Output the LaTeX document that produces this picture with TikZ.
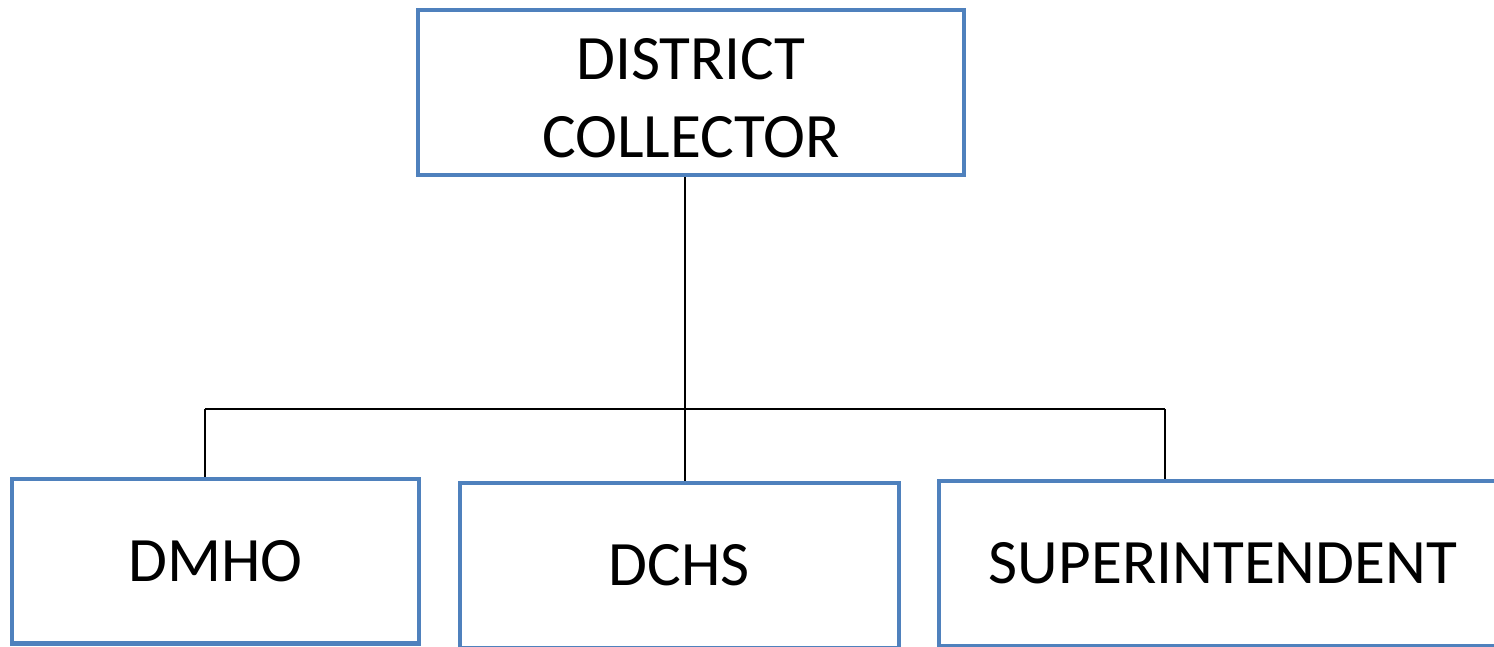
\documentclass[tikz,border=0pt]{standalone}
\usepackage{fontspec}
\setmainfont{Carlito}
\usepackage{tikz}
\definecolor{officeblue}{RGB}{79,129,189}

\begin{document}
\begin{tikzpicture}[
  x=0.02cm, y=-0.02cm,
  orgbox/.style={draw=officeblue, line width=2.3pt, align=center,
    minimum height=3.3cm, inner sep=0pt,
    font=\fontsize{36}{44.5}\selectfont},
  link/.style={draw=black, line width=1.5pt},
  ]
  \useasboundingbox (0,0) rectangle (1494,646);

  \node[orgbox, minimum width=10.92cm] (coll) at (691,92.5) {\rule{0pt}{30pt}DISTRICT\\COLLECTOR};
  \node[orgbox, minimum width=8.14cm] (dmho) at (215.5,561) {DMHO};
  \node[orgbox, minimum width=8.78cm] (dchs) at (679.5,565.5) {DCHS};
  \node[orgbox, minimum width=11.36cm] (supt) at (1223,563.5) {SUPERINTENDENT};

  \coordinate (forkL) at (205,409);
  \coordinate (forkM) at (685,409);
  \coordinate (forkR) at (1165,409);

  \draw[link] (forkM |- coll.south) -- (forkM);
  \draw[link] (forkL) -- (forkR);
  \draw[link] (forkL) -- (forkL |- dmho.north);
  \draw[link] (forkM) -- (forkM |- dchs.north);
  \draw[link] (forkR) -- (forkR |- supt.north);
\end{tikzpicture}
\end{document}
